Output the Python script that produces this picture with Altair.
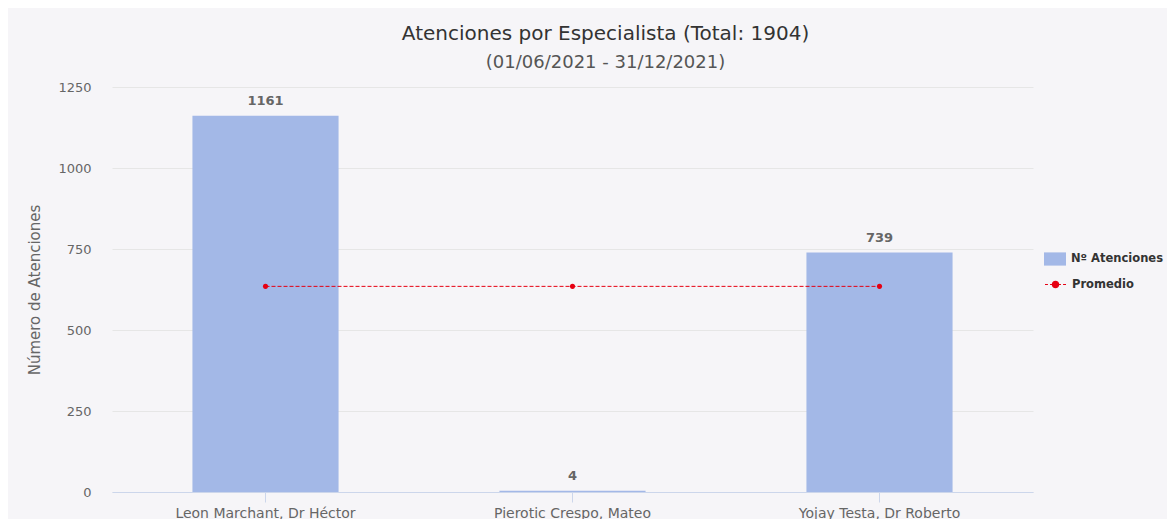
import altair as alt
import pandas as pd

# ---- data ----
especialistas = ["Leon Marchant, Dr Héctor", "Pierotic Crespo, Mateo", "Yojay Testa, Dr Roberto"]
atenciones = [1161, 4, 739]
y_ticks = [0, 250, 500, 750, 1000, 1250]
serie_barras = "Nº Atenciones"
serie_linea = "Promedio"
subtitulo = "(01/06/2021 - 31/12/2021)"

total = sum(atenciones)
promedio = total / len(atenciones)
titulo = f"Atenciones por Especialista (Total: {total})"

df = pd.DataFrame({
    "especialista": especialistas,
    "atenciones": atenciones,
    "promedio": [promedio] * len(especialistas),
    "serie_b": [serie_barras] * len(especialistas),
    "serie_l": [serie_linea] * len(especialistas),
})

FONT = "DejaVu Sans"
BLUE = "#a3b8e7"
RED = "#e60012"

x_scale = alt.Scale(domain=especialistas, paddingInner=0.524, paddingOuter=0.262)
y_scale = alt.Scale(domain=[0, 1250], nice=False)

x_axis = alt.Axis(title=None, labelAngle=0, domainColor="#ccd6eb", tickColor="#ccd6eb",
                  tickSize=10, labelColor="#666666", labelFontSize=14, labelPadding=4,
                  grid=False, labelFont=FONT, labelLimit=400)
y_axis = alt.Axis(title="Número de Atenciones", values=y_ticks, format="d", domain=False,
                  ticks=False, gridColor="#e6e6e6", labelColor="#666666", labelFontSize=13,
                  labelPadding=21, labelFont=FONT, titleFont=FONT, titleColor="#666666",
                  titleFontSize=15, titleFontWeight="normal", titlePadding=15)

X = alt.X("especialista:N", sort=especialistas, scale=x_scale, axis=x_axis)

legend_common = dict(title=None, orient="none", labelFontWeight="bold", labelFontSize=11.5,
                     labelColor="#333333", labelOffset=5, labelFont=FONT, padding=0,
                     labelLimit=300)

base = alt.Chart(df)

bars = base.mark_bar().encode(
    x=X,
    y=alt.Y("atenciones:Q", scale=y_scale, axis=y_axis),
    fill=alt.Fill("serie_b:N", scale=alt.Scale(domain=[serie_barras], range=[BLUE]),
                  legend=alt.Legend(legendX=932, legendY=161,
                                    symbolType="M-1,-0.6H1V0.6H-1Z", symbolSize=484,
                                    symbolStrokeWidth=0, **legend_common)),
)

labels = base.mark_text(dy=-15, baseline="middle", fontWeight="bold", fontSize=13,
                        color="#666666", font=FONT).encode(
    x=X,
    y=alt.Y("atenciones:Q", scale=y_scale),
    text=alt.Text("atenciones:Q"),
)

line = base.mark_line(strokeDash=[4, 2], strokeWidth=1).encode(
    x=X,
    y=alt.Y("promedio:Q", scale=y_scale),
    stroke=alt.Stroke("serie_l:N", scale=alt.Scale(domain=[serie_linea], range=[RED]),
                      legend=alt.Legend(legendX=932, legendY=186,
                                        symbolType="M-1,0H-0.72M-0.52,0H-0.28M0.28,0H0.52M0.72,0H1M0.3,0A0.3,0.3,0,1,1,-0.3,0A0.3,0.3,0,1,1,0.3,0Z",
                                        symbolSize=441, symbolStrokeWidth=1.2,
                                        symbolFillColor=RED, symbolStrokeColor=RED,
                                        **legend_common)),
)

points = base.mark_circle(size=26, color=RED, opacity=1).encode(
    x=X,
    y=alt.Y("promedio:Q", scale=y_scale),
)

chart = alt.layer(bars, labels, line, points).resolve_legend(fill="independent", stroke="independent").properties(
    width=921,
    height=405,
    autosize=alt.AutoSizeParams(type="none"),
    padding={"left": 104, "top": 79, "right": 134, "bottom": 27},
    background="#f6f5f8",
    title=alt.TitleParams(text=titulo, subtitle=subtitulo, anchor="middle", dx=33,
                          font=FONT, fontSize=20, fontWeight="normal", color="#333333",
                          subtitleFont=FONT, subtitleFontSize=18, subtitleColor="#555555",
                          offset=9, subtitlePadding=10),
).configure_view(stroke=None)

chart.save("out.html", embed_options={"renderer": "svg", "actions": False})
